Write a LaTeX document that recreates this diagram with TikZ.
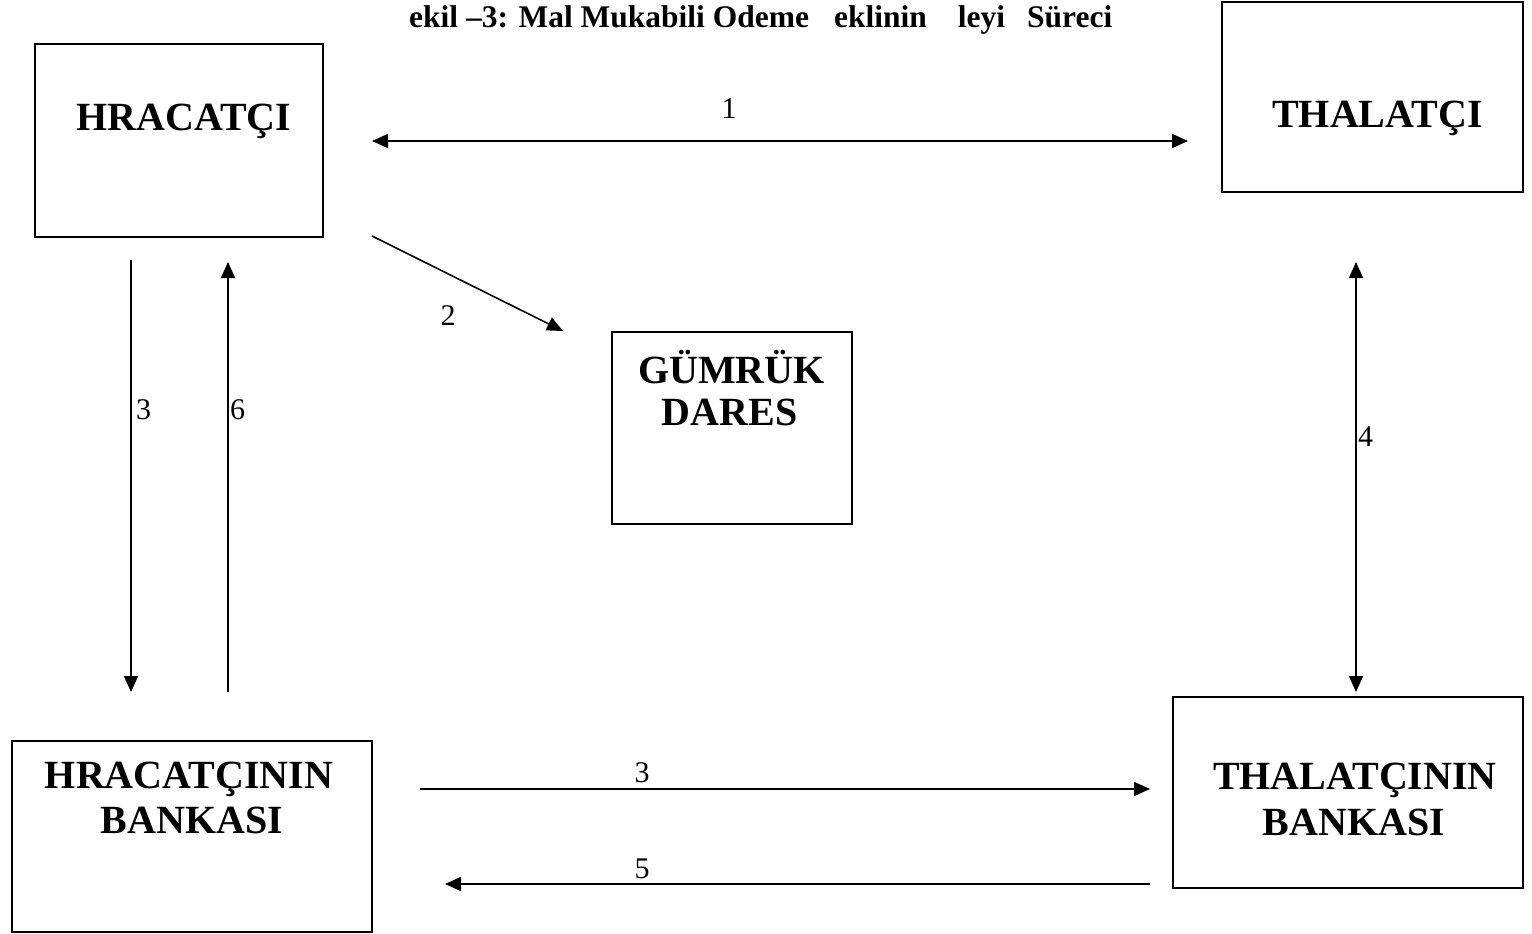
\documentclass[tikz,border=0pt]{standalone}
\usepackage{fontspec}
\setmainfont{Liberation Serif}
\usetikzlibrary{arrows.meta}
\begin{document}
\begin{tikzpicture}[x=1pt,y=-1pt,
  boxnode/.style={draw,line width=1.8pt,inner sep=0pt,minimum width=#1},
  boxtext/.style={font=\fontsize{40}{45}\selectfont\bfseries,anchor=base,inner sep=0pt},
  numlabel/.style={font=\fontsize{30}{34}\selectfont,anchor=base,inner sep=0pt},
  flow/.style={line width=1.6pt,-{Triangle[length=16pt,width=14pt]}},
  flowboth/.style={line width=1.6pt,{Triangle[length=16pt,width=14pt]}-{Triangle[length=16pt,width=14pt]}}
]
\useasboundingbox (0,0) rectangle (1532,934);
% title
\node[anchor=base west,inner sep=0pt,font=\fontsize{31.5}{36}\selectfont\bfseries] (title) at (409,28)
  {ekil –3: Mal Mukabili Odeme\hspace{25pt}eklinin\hspace{31pt}leyi\hspace{22pt}Süreci};
% boxes
\node[boxnode=288pt,minimum height=193pt] (hr) at (179,140.5) {};
\node[boxnode=301pt,minimum height=190pt] (th) at (1372.5,97) {};
\node[boxnode=240pt,minimum height=192pt] (gu) at (732,428) {};
\node[boxnode=360pt,minimum height=191pt] (hb) at (192,836.5) {};
\node[boxnode=350pt,minimum height=191pt] (tb) at (1348,792.5) {};
% box texts
\node[boxtext] (hrt) at (184,130) {HRACATÇI};
\node[boxtext] (tht) at (1377.5,128) {THALATÇI};
\node[boxtext] (gut1) at (731.5,383) {GÜMRÜK};
\node[boxtext] (gut2) at (729.5,425) {DARES};
\node[boxtext] (hbt1) at (189,788) {HRACATÇININ};
\node[boxtext] (hbt2) at (192,833) {BANKASI};
\node[boxtext] (tbt1) at (1355,789) {THALATÇININ};
\node[boxtext] (tbt2) at (1354,835) {BANKASI};
% connector end points
\coordinate (a1s) at (372,141);
\coordinate (a1e) at (1188,141);
\coordinate (a2s) at (372,236);
\coordinate (a2e) at (563,331);
\coordinate (a3s) at (131,260);
\coordinate (a3e) at (131,692);
\coordinate (a6s) at (228,692);
\coordinate (a6e) at (228,262);
\coordinate (a4s) at (1356,262);
\coordinate (a4e) at (1356,692);
\coordinate (b3s) at (420,789);
\coordinate (b3e) at (1150,789);
\coordinate (a5s) at (1150,884);
\coordinate (a5e) at (445,884);
% connectors
\draw[flowboth] (a1s) -- (a1e);
\draw[flow] (a2s) -- (a2e);
\draw[flow] (a3s) -- (a3e);
\draw[flow] (a6s) -- (a6e);
\draw[flowboth] (a4s) -- (a4e);
\draw[flow] (b3s) -- (b3e);
\draw[flow] (a5s) -- (a5e);
% labels
\node[numlabel] (l1) at (729,118) {1};
\node[numlabel] (l2) at (448,325) {2};
\node[numlabel,anchor=base west] (l3a) at (136,419) {3};
\node[numlabel,anchor=base west] (l6) at (230,419) {6};
\node[numlabel,anchor=base west] (l4) at (1358,446) {4};
\node[numlabel] (l3b) at (642,782) {3};
\node[numlabel] (l5) at (642,878) {5};
\end{tikzpicture}
\end{document}
